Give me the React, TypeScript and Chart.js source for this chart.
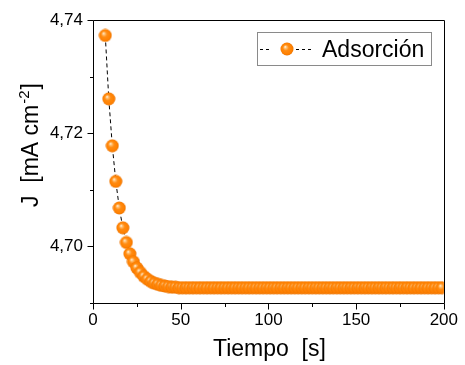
import React, { useEffect, useRef } from "react";
import { Chart, registerables } from "chart.js";

Chart.register(...registerables);

const times = [
  7, 9, 11, 13, 15, 17, 19, 21, 23, 25, 27, 29, 31, 33, 35, 37, 39, 41, 43, 45, 47,
  49, 51, 53, 55, 57, 59, 61, 63, 65, 67, 69, 71, 73, 75, 77, 79, 81, 83, 85, 87, 89,
  91, 93, 95, 97, 99, 101, 103, 105, 107, 109, 111, 113, 115, 117, 119, 121, 123, 125,
  127, 129, 131, 133, 135, 137, 139, 141, 143, 145, 147, 149, 151, 153, 155, 157, 159,
  161, 163, 165, 167, 169, 171, 173, 175, 177, 179, 181, 183, 185, 187, 189, 191, 193,
  195, 197, 199,
];

const current = [
  4.7373, 4.7261, 4.7178, 4.7115, 4.7068, 4.7033, 4.7007, 4.6987, 4.6973, 4.6962,
  4.6954, 4.6947, 4.6942, 4.6938, 4.6935, 4.6933, 4.6931, 4.693, 4.6929, 4.6928, 4.6928,
  4.6927, 4.6927, 4.6927, 4.6927, 4.6927, 4.6927, 4.6927, 4.6927, 4.6927, 4.6927,
  4.6927, 4.6927, 4.6927, 4.6927, 4.6927, 4.6927, 4.6927, 4.6927, 4.6927, 4.6927,
  4.6927, 4.6927, 4.6927, 4.6927, 4.6927, 4.6927, 4.6927, 4.6927, 4.6927, 4.6927,
  4.6927, 4.6927, 4.6927, 4.6927, 4.6927, 4.6927, 4.6927, 4.6927, 4.6927, 4.6927,
  4.6927, 4.6927, 4.6927, 4.6927, 4.6927, 4.6927, 4.6927, 4.6927, 4.6927, 4.6927,
  4.6927, 4.6927, 4.6927, 4.6927, 4.6927, 4.6927, 4.6927, 4.6927, 4.6927, 4.6927,
  4.6927, 4.6927, 4.6927, 4.6927, 4.6927, 4.6927, 4.6927, 4.6927, 4.6927, 4.6927,
  4.6927, 4.6927, 4.6927, 4.6927, 4.6927, 4.6927, 4.6927,
];

const xMajorTicks = [0, 50, 100, 150, 200];
const xMinorTicks = [25, 75, 125, 175];
const yMajorTicks = [4.7, 4.72, 4.74];
const yMinorTicks = [4.69, 4.71, 4.73];

const seriesLabel = "Adsorción";
const xTitle = "Tiempo  [s]";
const yTitleMain = "J  [mA cm";
const yTitleSup = "-2";
const yTitleEnd = "]";

const FONT = "'Liberation Sans', Arial, sans-serif";

function makeSphere(r: number): HTMLCanvasElement {
  const c = document.createElement("canvas");
  const s = Math.ceil(r * 2) + 1;
  c.width = s;
  c.height = s;
  const ctx = c.getContext("2d")!;
  const cx = s / 2;
  const cy = s / 2;
  const g = ctx.createRadialGradient(cx - r * 0.3, cy - r * 0.35, 0, cx, cy, r);
  g.addColorStop(0, "#ffffff");
  g.addColorStop(0.18, "#ffc47a");
  g.addColorStop(0.45, "#ff8c12");
  g.addColorStop(0.85, "#ff8000");
  g.addColorStop(1, "#e87200");
  ctx.fillStyle = g;
  ctx.beginPath();
  ctx.arc(cx, cy, r, 0, Math.PI * 2);
  ctx.fill();
  return c;
}

export default function App() {
  const ref = useRef<HTMLCanvasElement | null>(null);

  useEffect(() => {
    if (!ref.current) return;
    const sphere = makeSphere(6.5);

    const framePlugin = {
      id: "frame",
      afterDraw(chart: any) {
        const ctx = chart.ctx;
        const { left, right, top, bottom } = chart.chartArea;
        const xs = chart.scales.x;
        const ys = chart.scales.y;
        ctx.save();
        ctx.strokeStyle = "#000";
        ctx.lineWidth = 1;
        ctx.setLineDash([]);
        // box
        ctx.beginPath();
        ctx.rect(Math.round(left) + 0.5, Math.round(top) + 0.5, Math.round(right - left), Math.round(bottom - top));
        ctx.stroke();
        // ticks
        ctx.beginPath();
        const yb = Math.round(bottom) + 0.5;
        xMajorTicks.forEach((v) => {
          const px = Math.round(xs.getPixelForValue(v)) + 0.5;
          ctx.moveTo(px, yb);
          ctx.lineTo(px, yb + 6);
        });
        xMinorTicks.forEach((v) => {
          const px = Math.round(xs.getPixelForValue(v)) + 0.5;
          ctx.moveTo(px, yb);
          ctx.lineTo(px, yb + 3.5);
        });
        const xl = Math.round(left) + 0.5;
        yMajorTicks.forEach((v) => {
          const py = Math.round(ys.getPixelForValue(v)) + 0.5;
          ctx.moveTo(xl, py);
          ctx.lineTo(xl - 6, py);
        });
        yMinorTicks.forEach((v) => {
          const py = Math.round(ys.getPixelForValue(v)) + 0.5;
          ctx.moveTo(xl, py);
          ctx.lineTo(xl - 3.5, py);
        });
        ctx.stroke();

        // x title
        ctx.fillStyle = "#000";
        ctx.font = `23px ${FONT}`;
        ctx.textAlign = "center";
        ctx.textBaseline = "alphabetic";
        ctx.fillText(xTitle, (left + right) / 2 + 1, 356);

        // y title
        ctx.save();
        ctx.translate(38, 207);
        ctx.rotate(-Math.PI / 2);
        ctx.textAlign = "left";
        ctx.font = `23px ${FONT}`;
        ctx.fillText(yTitleMain, 0, 0);
        let w = ctx.measureText(yTitleMain).width;
        ctx.font = `15px ${FONT}`;
        ctx.fillText(yTitleSup, w + 1, -9);
        w += ctx.measureText(yTitleSup).width + 2;
        ctx.font = `23px ${FONT}`;
        ctx.fillText(yTitleEnd, w, 0);
        ctx.restore();

        // legend
        const bx = 257, by = 32, bw = 174, bh = 33;
        ctx.fillStyle = "#fff";
        ctx.fillRect(bx, by, bw, bh);
        ctx.strokeStyle = "#8a8a8a";
        ctx.strokeRect(bx + 0.5, by + 0.5, bw, bh);
        const ly = 49.5;
        ctx.strokeStyle = "#000";
        ctx.beginPath();
        [[260, 263], [266, 269], [296, 299], [302, 305], [308, 311]].forEach(([a, b]) => {
          ctx.moveTo(a, ly);
          ctx.lineTo(b, ly);
        });
        ctx.stroke();
        ctx.drawImage(sphere, 287 - sphere.width / 2, 49 - sphere.height / 2);
        ctx.fillStyle = "#000";
        ctx.font = `23px ${FONT}`;
        ctx.textAlign = "left";
        ctx.fillText(seriesLabel, 322, 57);
        ctx.restore();
      },
    };

    const chart = new Chart(ref.current, {
      type: "line",
      data: {
        datasets: [
          {
            label: seriesLabel,
            data: times.map((t, i) => ({ x: t, y: current[i] })),
            borderColor: "#000",
            borderWidth: 1,
            borderDash: [4, 3],
            pointStyle: sphere as any,
            pointRadius: 6.5,
            fill: false,
            tension: 0,
          },
        ],
      },
      options: {
        responsive: false,
        animation: false,
        layout: { padding: { top: 20, right: 21, left: 0, bottom: 0 } },
        plugins: {
          legend: { display: false },
          tooltip: { enabled: false },
        },
        scales: {
          x: {
            type: "linear",
            min: 0,
            max: 200,
            grid: { display: false, drawTicks: false },
            border: { display: false },
            ticks: {
              stepSize: 50,
              padding: 7,
              color: "#000",
              font: { family: FONT, size: 17 },
              maxRotation: 0,
            },
            afterFit: (s: any) => {
              s.height = 62;
            },
          },
          y: {
            type: "linear",
            min: 4.69,
            max: 4.74,
            grid: { display: false, drawTicks: false },
            border: { display: false },
            afterBuildTicks: (s: any) => {
              s.ticks = yMajorTicks.map((v) => ({ value: v }));
            },
            ticks: {
              padding: 10,
              color: "#000",
              font: { family: FONT, size: 17 },
              callback: (v: any) => Number(v).toFixed(2).replace(".", ","),
            },
            afterFit: (s: any) => {
              s.width = 93;
            },
          },
        },
      },
      plugins: [framePlugin],
    });
    return () => chart.destroy();
  }, []);

  return (
    <div style={{ position: "absolute", left: 0, top: 0, width: 465, height: 365, background: "#fff" }}>
      <canvas ref={ref} width={465} height={365} style={{ display: "block" }} />
    </div>
  );
}
